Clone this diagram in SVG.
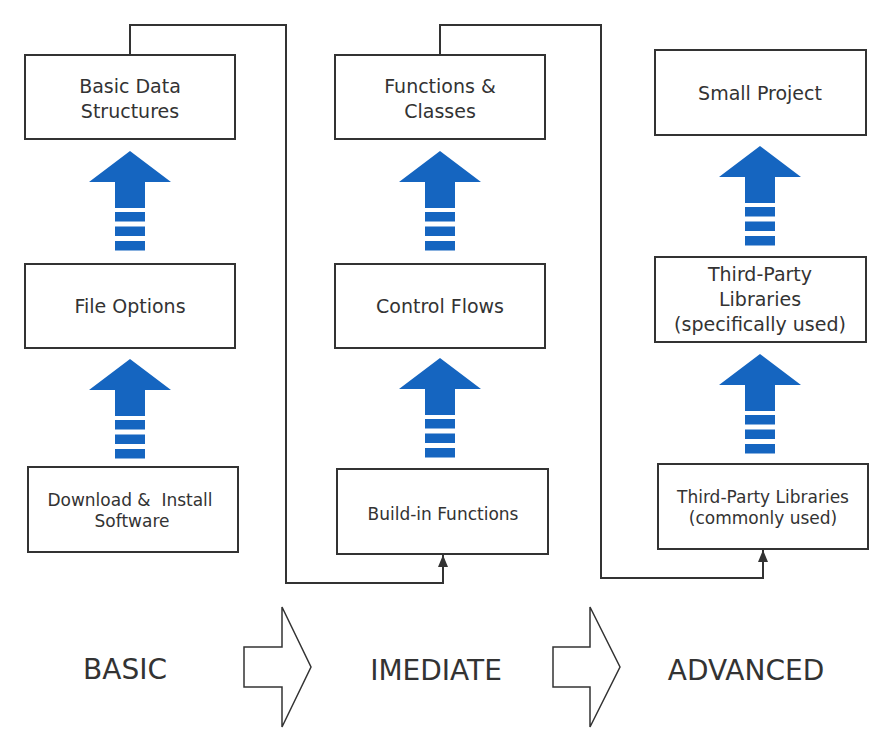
<svg xmlns="http://www.w3.org/2000/svg" width="892" height="750" viewBox="0 0 892 750">
<style>
.box{fill:#fff;stroke:#333;stroke-width:2}
.lbl{font-family:"DejaVu Sans","Open Sans","Liberation Sans",sans-serif;fill:#333;text-anchor:middle}
.big{font-size:19px}
.sm{font-size:17px}
.stage{font-size:28px}
.conn{fill:none;stroke:#333;stroke-width:2}
.blk{fill:#fff;stroke:#333;stroke-width:1.5}
.blue{fill:#1565c0}
</style>
<defs>
<marker id="ah" viewBox="0 0 12 10" refX="12" refY="5" markerWidth="12" markerHeight="10" markerUnits="userSpaceOnUse" orient="auto">
<path d="M0,0 L12,5 L0,10 Z" fill="#333"/>
</marker>
<g id="up">
<polygon class="blue" points="0,0 41,31 15,31 15,57 -15,57 -15,31 -41,31"/>
<rect class="blue" x="-15" y="61" width="30" height="9.5"/>
<rect class="blue" x="-15" y="75.5" width="30" height="9.5"/>
<rect class="blue" x="-15" y="90" width="30" height="9.5"/>
</g>
</defs>
<rect width="892" height="750" fill="#fff"/>
<g id="connectors">
<path class="conn" d="M130,55 V25 H286 V583 H443 V555" marker-end="url(#ah)"/>
<path class="conn" d="M440,55 V25 H601 V578 H763 V550" marker-end="url(#ah)"/>
</g>
<g id="progress-arrows">
<use href="#up" x="130" y="151"/>
<use href="#up" x="130" y="359"/>
<use href="#up" x="440" y="151"/>
<use href="#up" x="440" y="358"/>
<use href="#up" x="760" y="146"/>
<use href="#up" x="760" y="354"/>
</g>
<g id="basic-data-structures">
<rect class="box" x="25" y="55" width="210" height="84"/>
<text class="lbl big" x="130" y="93">Basic Data</text>
<text class="lbl big" x="130" y="118">Structures</text>
</g>
<g id="file-options">
<rect class="box" x="25" y="264" width="210" height="84"/>
<text class="lbl big" x="130" y="313">File Options</text>
</g>
<g id="download-install">
<rect class="box" x="28" y="467" width="210" height="85"/>
<text class="lbl sm" x="130" y="506" xml:space="preserve">Download &amp;  Install</text>
<text class="lbl sm" x="132" y="527">Software</text>
</g>
<g id="functions-classes">
<rect class="box" x="335" y="55" width="210" height="84"/>
<text class="lbl big" x="440" y="93">Functions &amp;</text>
<text class="lbl big" x="440" y="118">Classes</text>
</g>
<g id="control-flows">
<rect class="box" x="335" y="264" width="210" height="84"/>
<text class="lbl big" x="440" y="313">Control Flows</text>
</g>
<g id="build-in-functions">
<rect class="box" x="337" y="469" width="211" height="85"/>
<text class="lbl sm" x="443" y="520">Build-in Functions</text>
</g>
<g id="small-project">
<rect class="box" x="655" y="50" width="211" height="85"/>
<text class="lbl big" x="760" y="100">Small Project</text>
</g>
<g id="third-party-specific">
<rect class="box" x="655" y="257" width="211" height="85"/>
<text class="lbl big" x="760" y="281">Third-Party</text>
<text class="lbl big" x="760" y="306">Libraries</text>
<text class="lbl big" x="760" y="331">(specifically used)</text>
</g>
<g id="third-party-common">
<rect class="box" x="658" y="464" width="210" height="85"/>
<text class="lbl sm" x="763" y="503">Third-Party Libraries</text>
<text class="lbl sm" x="763" y="524">(commonly used)</text>
</g>
<g id="stage-arrows">
<polygon class="blk" points="244,647 282,647 282,607 311,667 282,727 282,687 244,687"/>
<polygon class="blk" points="553,647 590,647 590,607 620,667 590,727 590,687 553,687"/>
</g>
<g id="stages">
<text class="lbl stage" x="125" y="679">BASIC</text>
<text class="lbl stage" x="436" y="680">IMEDIATE</text>
<text class="lbl stage" x="746" y="680">ADVANCED</text>
</g>
</svg>
